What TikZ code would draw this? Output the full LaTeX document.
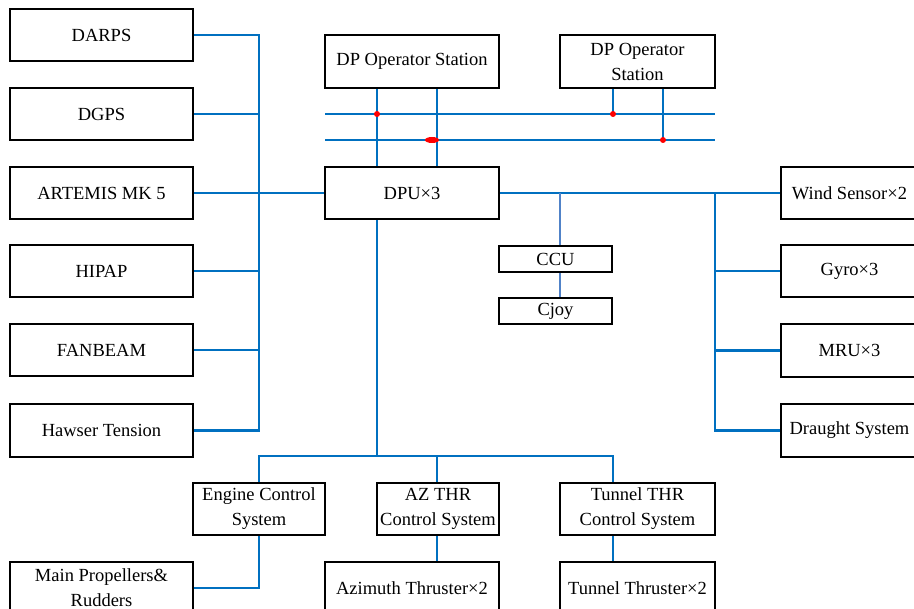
\documentclass[tikz,border=0pt]{standalone}
\usepackage{fontspec}
\setmainfont{Liberation Serif}
\usetikzlibrary{shapes.geometric}
\definecolor{linkblue}{RGB}{0,112,192}
\definecolor{softblue}{RGB}{80,130,200}
\newcommand\bx[6]{\node[box,minimum width={(#4)-(#2)},minimum height={(#5)-(#3)}] (#1) at ({((#2)+(#4))/2},{((#3)+(#5))/2}) {#6};}
\begin{document}
\begin{tikzpicture}[x=1pt,y=-1pt,
  box/.style={draw=black,line width=2.6pt,inner sep=0pt,align=center,font=\fontsize{18.5}{25}\selectfont},
  link/.style={draw=linkblue,line width=2.5pt},
  softlink/.style={draw=softblue,line width=2.5pt},
  dot/.style={circle,fill=red,draw=none,inner sep=0pt,minimum size=6pt}]
\useasboundingbox (0,0) rectangle (914,609);
% column / row coordinates
\coordinate (c259) at (259,0);
\coordinate (c377) at (377,0);
\coordinate (c437) at (437,0);
\coordinate (c560) at (560,0);
\coordinate (c613) at (613,0);
\coordinate (c663) at (663,0);
\coordinate (c715) at (715,0);
\coordinate (hb) at (0,456);
\coordinate (busAs) at (325,114);
\coordinate (busAe) at (715,114);
\coordinate (busBs) at (325,140);
\coordinate (busBe) at (715,140);
% left column
\bx{darps}{10}{9}{193}{61}{DARPS}
\bx{dgps}{10}{88}{193}{140}{DGPS}
\bx{artemis}{10}{167}{193}{219}{ARTEMIS MK 5}
\bx{hipap}{10}{245}{193}{297}{HIPAP}
\bx{fanbeam}{10}{324}{193}{376}{FANBEAM}
\bx{hawser}{10}{404}{193}{457}{Hawser Tension}
% centre
\bx{dp1}{325}{35}{499}{88}{DP Operator Station}
\bx{dp2}{560}{35}{715}{88}{DP Operator\\Station}
\bx{dpu}{325}{167}{499}{219}{DPU×3}
\bx{ccu}{499}{246}{612}{272}{CCU}
\bx{cjoy}{499}{298}{612}{324}{Cjoy}
% right column
\bx{wind}{781}{167}{918}{219}{Wind Sensor×2}
\bx{gyro}{781}{245}{918}{297}{Gyro×3}
\bx{mru}{781}{324}{918}{377}{MRU×3}
\bx{draught}{781}{404}{918}{457}{Draught System}
% bottom
\bx{engine}{193}{483}{325}{535}{Engine Control\\System}
\bx{azc}{377}{483}{499}{535}{AZ THR\\Control System}
\bx{tunc}{560}{483}{715}{535}{Tunnel THR\\Control System}
\bx{mainprop}{10}{562}{193}{614}{Main Propellers\&\\Rudders}
\bx{azt}{325}{562}{499}{614}{Azimuth Thruster×2}
\bx{tunt}{560}{562}{715}{614}{Tunnel Thruster×2}
% left bus
\draw[link] (darps.east) -- (darps.east -| c259) -- (hawser.east -| c259) -- (hawser.east);
\foreach \n in {dgps,hipap,fanbeam} \draw[link] (\n.east) -- (\n.east -| c259);
\draw[link] (artemis.east) -- (dpu.west);
% operator station buses
\draw[link] (busAs) -- (busAe);
\draw[link] (busBs) -- (busBe);
\draw[link] (dp1.south -| c377) -- (dpu.north -| c377);
\draw[link] (dp1.south -| c437) -- (dpu.north -| c437);
\draw[link] (dp2.south -| c613) -- (c613 |- busAs);
\draw[link] (dp2.south -| c663) -- (c663 |- busBs);
\node[dot] (j1) at (c377 |- busAs) {};
\node[dot] (j2) at (c613 |- busAs) {};
\node[dot] (j3) at (c663 |- busBs) {};
\node[ellipse,fill=red,draw=none,inner sep=0pt,minimum width=14pt,minimum height=6pt] (j4) at (432,140) {};
% right side
\draw[link] (dpu.east) -- (wind.west);
\draw[softlink] (dpu.east -| c560) -- (ccu.north -| c560);
\draw[softlink] (ccu.south -| c560) -- (cjoy.north -| c560);
\draw[link] (dpu.east -| c715) -- (draught.west -| c715) -- (draught.west);
\foreach \n in {gyro,mru} \draw[link] (\n.west) -- (\n.west -| c715);
% bottom tree
\draw[link] (dpu.south -| c377) -- (c377 |- hb);
\draw[link] (engine.north -| c259) -- (c259 |- hb) -- (c613 |- hb) -- (tunc.north -| c613);
\draw[link] (c437 |- hb) -- (azc.north -| c437);
\draw[link] (engine.south -| c259) |- (mainprop.east);
\draw[link] (azc.south -| c437) -- (azt.north -| c437);
\draw[link] (tunc.south -| c613) -- (tunt.north -| c613);
\end{tikzpicture}
\end{document}
